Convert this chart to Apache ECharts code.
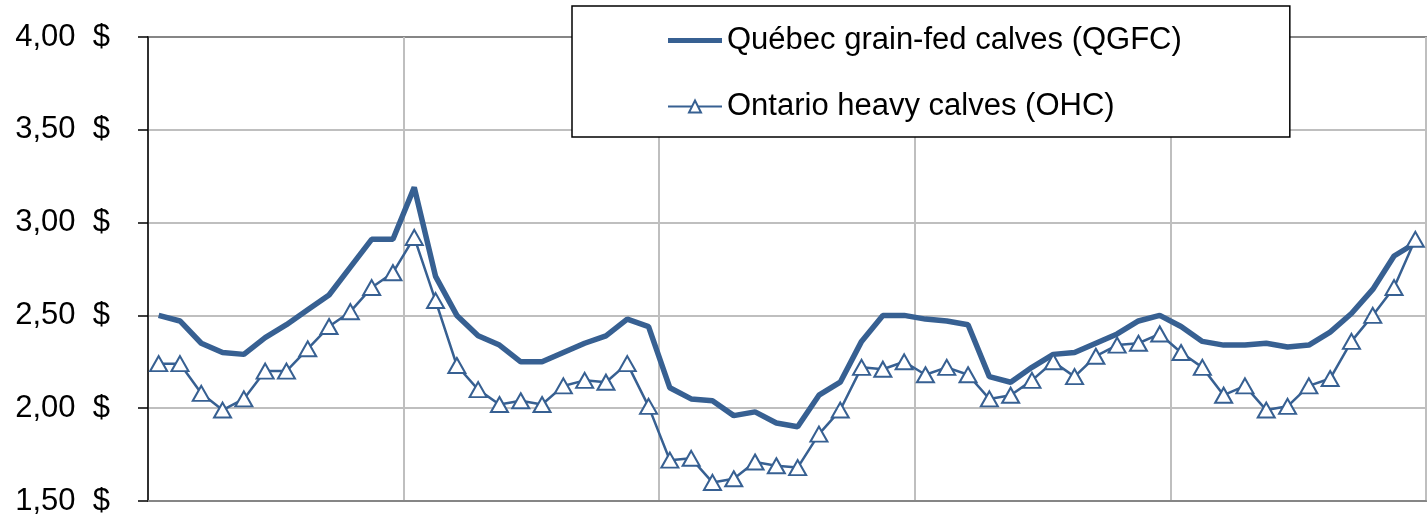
<!DOCTYPE html>
<html>
<head>
<meta charset="utf-8">
<script src="https://cdn.jsdelivr.net/npm/echarts@6/dist/echarts.min.js"></script>
<style>
  html, body { margin: 0; padding: 0; background: #fff; }
  #chart { width: 1427px; height: 517px; }
</style>
</head>
<body>
<div id="chart"></div>
<script>
// monthly categories, 5 years
const years = ['Y1', 'Y2', 'Y3', 'Y4', 'Y5']
const months = ['Jan', 'Feb', 'Mar', 'Apr', 'May', 'Jun', 'Jul', 'Aug', 'Sep', 'Oct', 'Nov', 'Dec']
const categories = []
years.forEach(function (y) {
    months.forEach(function (m) { categories.push(m + ' ' + y) })
})

// Québec grain-fed calves ($/lb)
const qgfc = [
    2.50, 2.47, 2.35, 2.30, 2.29, 2.38, 2.45, 2.53, 2.61, 2.76, 2.91, 2.91,
    3.19, 2.71, 2.50, 2.39, 2.34, 2.25, 2.25, 2.30, 2.35, 2.39, 2.48, 2.44,
    2.11, 2.05, 2.04, 1.96, 1.98, 1.92, 1.90, 2.07, 2.14, 2.36, 2.50, 2.50,
    2.48, 2.47, 2.45, 2.17, 2.14, 2.22, 2.29, 2.30, 2.35, 2.40, 2.47, 2.50,
    2.44, 2.36, 2.34, 2.34, 2.35, 2.33, 2.34, 2.41, 2.51, 2.64, 2.82, 2.89
]

// Ontario heavy calves ($/lb)
const ohc = [
    2.24, 2.24, 2.08, 1.99, 2.05, 2.20, 2.20, 2.32, 2.44, 2.52, 2.65, 2.73,
    2.92, 2.58, 2.23, 2.10, 2.02, 2.04, 2.02, 2.12, 2.15, 2.14, 2.24, 2.01,
    1.72, 1.73, 1.60, 1.62, 1.71, 1.69, 1.68, 1.86, 1.99, 2.22, 2.21, 2.25,
    2.18, 2.22, 2.18, 2.05, 2.07, 2.15, 2.25, 2.17, 2.28, 2.34, 2.35, 2.40,
    2.30, 2.22, 2.07, 2.12, 1.99, 2.01, 2.12, 2.16, 2.36, 2.50, 2.65, 2.91
]

const seriesNames = ['Québec grain-fed calves (QGFC)', 'Ontario heavy calves (OHC)']

// y axis ticks
const yMin = 1.5
const yMax = 4.0
const yStep = 0.5

const blue = '#376092'
const font = 'Liberation Sans, Arial, sans-serif'

const myChart = echarts.init(document.getElementById('chart'), null, { renderer: 'canvas' })

let option = {
    animation: false,
    backgroundColor: '#ffffff',
    grid: {
        left: 148,
        right: 1,
        top: 37,
        bottom: 16,
        show: true,
        borderColor: '#868686',
        borderWidth: 2,
        containLabel: false
    },
    legend: {
        orient: 'vertical',
        left: 572,
        top: 6,
        padding: [19, 108, 15, 95],
        itemGap: 35,
        itemWidth: 54,
        itemHeight: 15,
        backgroundColor: '#ffffff',
        borderColor: '#000000',
        borderWidth: 1.5,
        textStyle: {
            fontFamily: font,
            fontSize: 31,
            color: '#000',
            lineHeight: 28
        },
        data: [
            { name: seriesNames[0], icon: 'path://M0,0H54V5H0Z' },
            { name: seriesNames[1] }
        ]
    },
    xAxis: {
        type: 'category',
        data: categories,
        boundaryGap: true,
        axisLine: { show: true, lineStyle: { color: '#868686', width: 2 } },
        axisTick: { show: false },
        axisLabel: { show: false },
        splitLine: {
            show: true,
            interval: function (idx) { return idx % 12 === 0 },
            lineStyle: { color: '#bfbfbf', width: 2 }
        }
    },
    yAxis: {
        type: 'value',
        min: yMin,
        max: yMax,
        interval: yStep,
        axisLine: { show: true, lineStyle: { color: '#000', width: 1.5 } },
        axisTick: { show: true, inside: false, length: 10, lineStyle: { color: '#000', width: 1.5 } },
        axisLabel: {
            margin: 38,
            fontFamily: font,
            fontSize: 31,
            color: '#000',
            formatter: function (v) { return v.toFixed(2).replace('.', ',') + '  $' }
        },
        splitLine: {
            show: true,
            lineStyle: {
                color: ['#bfbfbf', '#bfbfbf', '#bfbfbf', '#bfbfbf', '#bfbfbf', '#868686'],
                width: 2
            }
        }
    },
    series: [
        {
            name: seriesNames[0],
            type: 'line',
            data: qgfc,
            symbol: 'none',
            lineStyle: { color: blue, width: 5.5 },
            itemStyle: { color: blue }
        },
        {
            name: seriesNames[1],
            type: 'line',
            data: ohc,
            symbol: 'triangle',
            symbolSize: [17, 15],
            showAllSymbol: true,
            lineStyle: { color: blue, width: 2.5 },
            itemStyle: { color: '#ffffff', borderColor: blue, borderWidth: 2 }
        }
    ]
}

option && myChart.setOption(option)
</script>
</body>
</html>
